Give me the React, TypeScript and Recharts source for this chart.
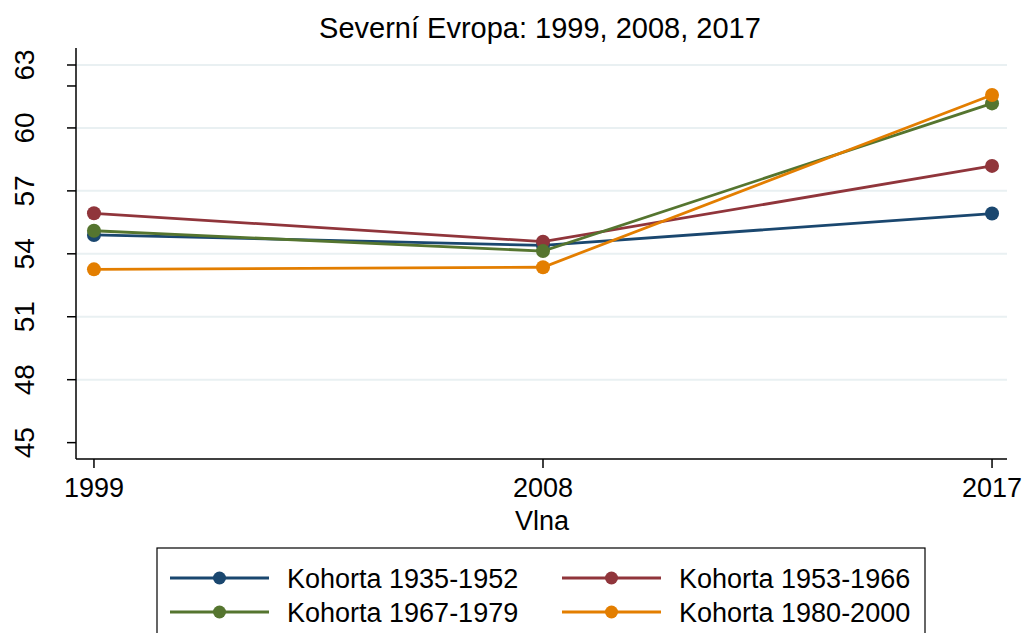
import React from "react"
import { LineChart, Line, XAxis, YAxis, ReferenceLine } from "recharts"

const waves = [1999, 2008, 2017]
const cohort1935 = [54.9, 54.4, 55.92]
const cohort1953 = [55.93, 54.58, 58.19]
const cohort1967 = [55.1, 54.13, 61.17]
const cohort1980 = [53.26, 53.36, 61.57]

const yTicks = [45, 48, 51, 54, 57, 60, 62, 63]
const yLabeled = [45, 48, 51, 54, 57, 60, 63]
const gridValues = [48, 51, 54, 57, 60, 63]

const series = [
  { key: "c1935", name: "Kohorta 1935-1952", color: "#1a476f", values: cohort1935 },
  { key: "c1953", name: "Kohorta 1953-1966", color: "#90353b", values: cohort1953 },
  { key: "c1967", name: "Kohorta 1967-1979", color: "#55752f", values: cohort1967 },
  { key: "c1980", name: "Kohorta 1980-2000", color: "#e37e00", values: cohort1980 },
]

const data = waves.map((year, i) => {
  const row: Record<string, number> = { year }
  series.forEach((s) => {
    row[s.key] = s.values[i]
  })
  return row
})

const FONT = "'Liberation Sans', Arial, Helvetica, sans-serif"

const XTick = ({ x, y, payload }: any) => (
  <text x={x} y={y + 29} textAnchor="middle" fontSize={27} fontFamily={FONT} fill="#000">
    {payload.value}
  </text>
)

const YTick = ({ y, payload }: any) => {
  if (!yLabeled.includes(payload.value)) return null
  const bx = 34
  return (
    <text
      x={bx}
      y={y}
      transform={`rotate(-90, ${bx}, ${y})`}
      textAnchor="middle"
      fontSize={28}
      fontFamily={FONT}
      fill="#000"
    >
      {payload.value}
    </text>
  )
}

export default function App() {
  return (
    <div style={{ position: "absolute", left: 0, top: 0, width: 1024, height: 633, background: "#fff", overflow: "hidden" }}>
      <LineChart width={1024} height={633} data={data} margin={{ top: 48, right: 17, left: 0, bottom: 0 }}>
        {gridValues.map((v) => (
          <ReferenceLine key={v} y={v} stroke="#e9f0f2" strokeWidth={2} ifOverflow="extendDomain" />
        ))}
        <XAxis
          dataKey="year"
          type="number"
          domain={[1998.64, 2017.3]}
          ticks={waves}
          height={174}
          tickSize={9}
          tickMargin={0}
          stroke="#000"
          strokeWidth={1.5}
          tick={<XTick />}
          allowDataOverflow
        />
        <YAxis
          type="number"
          domain={[44.22, 63.81]}
          ticks={yTicks}
          width={76}
          tickSize={9}
          stroke="#000"
          strokeWidth={1.5}
          tick={<YTick />}
          interval={0}
          allowDataOverflow
        />
        {series.map((s) => (
          <Line
            key={s.key}
            dataKey={s.key}
            name={s.name}
            stroke={s.color}
            strokeWidth={2.8}
            dot={{ r: 7, fill: s.color, stroke: s.color, strokeWidth: 0 }}
            activeDot={false}
            isAnimationActive={false}
          />
        ))}
      </LineChart>
      <svg width={1024} height={633} style={{ position: "absolute", left: 0, top: 0, pointerEvents: "none" }}>
        <text x={540} y={38} textAnchor="middle" fontSize={29} fontFamily={FONT} fill="#000">
          Severní Evropa: 1999, 2008, 2017
        </text>
        <text x={542} y={530} textAnchor="middle" fontSize={27} fontFamily={FONT} fill="#000">
          Vlna
        </text>
        <rect x={157} y={548} width={768} height={120} fill="none" stroke="#000" strokeWidth={1.2} />
        {series.map((s, i) => {
          const col = i % 2
          const row = Math.floor(i / 2)
          const lx = col === 0 ? 170 : 562
          const ly = row === 0 ? 578 : 612
          return (
            <g key={s.key}>
              <line x1={lx} x2={lx + 99} y1={ly} y2={ly} stroke={s.color} strokeWidth={2.8} />
              <circle cx={lx + 49.5} cy={ly} r={6.5} fill={s.color} />
              <text x={lx + 117} y={ly + 10} fontSize={27} fontFamily={FONT} fill="#000">
                {s.name}
              </text>
            </g>
          )
        })}
      </svg>
    </div>
  )
}
